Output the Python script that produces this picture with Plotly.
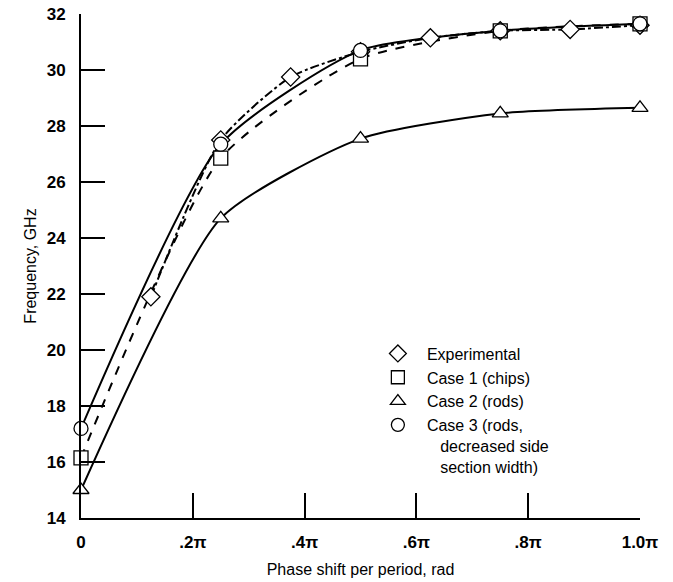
import plotly.graph_objects as go

# Data (phase shift in units of pi, frequency in GHz)
exp_x = [0.125, 0.25, 0.375, 0.5, 0.625, 0.75, 0.875, 1.0]
exp_y = [21.9, 27.5, 29.75, 30.65, 31.15, 31.4, 31.45, 31.6]

case_x = [0.0, 0.25, 0.5, 0.75, 1.0]
case1_y = [16.15, 26.85, 30.4, 31.4, 31.65]
case2_y = [15.0, 24.7, 27.55, 28.45, 28.65]
case3_y = [17.2, 27.35, 30.7, 31.4, 31.65]

tick_vals = [0, 0.2, 0.4, 0.6, 0.8, 1.0]
tick_text = ["0", ".2π", ".4π", ".6π", ".8π", "1.0π"]

names = ["Experimental", "Case 1 (chips)", "Case 2 (rods)",
         "Case 3 (rods,<br>\u00a0\u00a0\u00a0decreased side<br>\u00a0\u00a0\u00a0section width)"]

FONT = "Liberation Sans, Arial, sans-serif"
fig = go.Figure()

series = [
    (exp_x, exp_y, "diamond", "dashdot", names[0]),
    (case_x, case1_y, "square", "dash", names[1]),
    (case_x, case2_y, "triangle-up", "solid", names[2]),
    (case_x, case3_y, "circle", "solid", names[3]),
]

# lines
for xs, ys, sym, dash, nm in series:
    fig.add_trace(go.Scatter(
        x=xs, y=ys, mode="lines",
        line=dict(color="black", width=2, dash=dash, shape="spline", smoothing=0.6),
        showlegend=False, cliponaxis=False, hoverinfo="skip"))
# markers
for xs, ys, sym, dash, nm in series:
    fig.add_trace(go.Scatter(
        x=xs, y=ys, mode="markers",
        marker=dict(symbol=sym, size=14, color="white",
                    line=dict(color="black", width=1.3)),
        showlegend=False, cliponaxis=False))
# legend entries (markers only)
for xs, ys, sym, dash, nm in series:
    fig.add_trace(go.Scatter(
        x=[None], y=[None], mode="markers", name=nm,
        marker=dict(symbol=sym, size=13, color="white",
                    line=dict(color="black", width=1.3)),
        showlegend=True))

fig.update_layout(
    width=673, height=582,
    margin=dict(l=81, r=33, t=14, b=64),
    paper_bgcolor="white", plot_bgcolor="white",
    font=dict(family=FONT, color="black", size=15),
    legend=dict(x=0.515, y=0.36, xanchor="left", yanchor="top",
                font=dict(size=16, family=FONT, color="black"), tracegroupgap=0,
                valign="top", itemwidth=48, bgcolor="rgba(0,0,0,0)"),
    xaxis=dict(range=[0, 1], tickvals=tick_vals, ticktext=tick_text,
               ticks="inside", ticklen=25, tickwidth=1.5, tickcolor="black",
               showline=True, linecolor="black", linewidth=2, mirror=False,
               showgrid=False, zeroline=False, automargin=False,
               tickfont=dict(size=17, family=FONT, weight="bold", color="black"),
               ticklabelstandoff=8, ticklabeloverflow="allow",
               title=dict(text="Phase shift per period, rad",
                          font=dict(size=16, family=FONT, color="black"), standoff=12)),
    yaxis=dict(range=[14, 32], tickvals=list(range(14, 33, 2)),
               ticks="inside", ticklen=24, tickwidth=1.5, tickcolor="black",
               showline=True, linecolor="black", linewidth=2, mirror=False,
               showgrid=False, zeroline=False, automargin=False,
               tickfont=dict(size=17, family=FONT, weight="bold", color="black"),
               ticklabelstandoff=10, ticklabeloverflow="allow",
               title=dict(text="Frequency, GHz",
                          font=dict(size=16, family=FONT, color="black"), standoff=6)),
)

# remove the default 8px page margin so the figure fills the window exactly
fig.write_html("out.html", config={"displayModeBar": False},
               post_script="document.body.style.margin='0';")
